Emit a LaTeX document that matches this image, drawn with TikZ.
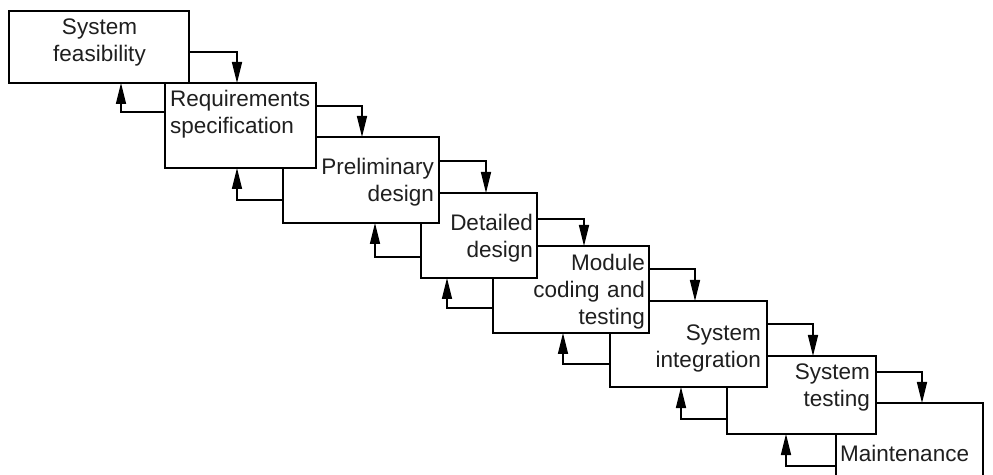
\documentclass[tikz,border=0pt]{standalone}
\usepackage{fontspec}
\setmainfont{Liberation Sans}
\usetikzlibrary{arrows.meta}
\begin{document}
\begin{tikzpicture}[x=1pt,y=1pt,
  box/.style={draw=black, line width=1.6pt, fill=white, inner sep=0pt, outer sep=0pt, anchor=north west},
  lbl/.style={inner sep=0pt, font=\fontsize{22.5}{27}\selectfont, text=black!88, text width=175pt},
  arr/.style={draw=black, line width=1.6pt, -{Triangle[length=21pt,width=10pt]}}]
\fill[white] (0,0) rectangle (993,474);
\useasboundingbox (0,0) rectangle (993,474);
\clip (0,0) rectangle (993,474);
% boxes, last first so each earlier box lies on top
\node[box, minimum width=147pt, minimum height=100pt] (b8) at (836,71) {};
\node[box, minimum width=149pt, minimum height=78pt] (b7) at (727,118) {};
\node[box, minimum width=157pt, minimum height=86pt] (b6) at (610,173) {};
\node[box, minimum width=156pt, minimum height=87pt] (b5) at (493,228) {};
\node[box, minimum width=116pt, minimum height=85pt] (b4) at (421,281) {};
\node[box, minimum width=156pt, minimum height=86pt] (b3) at (283,337) {};
\node[box, minimum width=151pt, minimum height=85pt] (b2) at (165,391) {};
\node[box, minimum width=180pt, minimum height=72pt] (b1) at (9,463) {};
% texts
\node[lbl, align=center, anchor=base] (t1) at (99.5,439) {System\\feasibility};
\node[lbl, align=left, anchor=base west] (t2) at (170,367) {Requirements\\specification};
\node[lbl, align=right, anchor=base east] (t3) at (434,299) {Preliminary\\design};
\node[lbl, align=right, anchor=base east] (t4) at (533,243) {Detailed\\design};
\node[lbl, align=right, anchor=base east] (t5) at (645,203) {Module\\coding and\\testing};
\node[lbl, align=right, anchor=base east] (t6) at (761,133) {System\\integration};
\node[lbl, align=right, anchor=base east] (t7) at (870,94) {System\\testing};
\node[lbl, align=left, anchor=base west] (t8) at (840,13) {Maintenance};
% forward arrows
\draw[arr] ([yshift=-41pt]b1.north east) -| ([xshift=72pt]b2.north west);
\draw[arr] ([yshift=-23pt]b2.north east) -| ([xshift=79pt]b3.north west);
\draw[arr] ([yshift=-24pt]b3.north east) -| ([xshift=65pt]b4.north west);
\draw[arr] ([yshift=-26pt]b4.north east) -| ([xshift=91pt]b5.north west);
\draw[arr] ([yshift=-23pt]b5.north east) -| ([xshift=85pt]b6.north west);
\draw[arr] ([yshift=-23pt]b6.north east) -| ([xshift=86pt]b7.north west);
\draw[arr] ([yshift=-16pt]b7.north east) -| ([xshift=86pt]b8.north west);
% back arrows
\draw[arr] ([yshift=-29pt]b2.north west) -| ([xshift=112pt]b1.south west);
\draw[arr] ([yshift=-63pt]b3.north west) -| ([xshift=72pt]b2.south west);
\draw[arr] ([yshift=-64pt]b4.north west) -| ([xshift=92pt]b3.south west);
\draw[arr] ([yshift=-62pt]b5.north west) -| ([xshift=26pt]b4.south west);
\draw[arr] ([yshift=-63pt]b6.north west) -| ([xshift=70pt]b5.south west);
\draw[arr] ([yshift=-63pt]b7.north west) -| ([xshift=71pt]b6.south west);
\draw[arr] ([yshift=-63pt]b8.north west) -| ([xshift=59pt]b7.south west);
\end{tikzpicture}
\end{document}
